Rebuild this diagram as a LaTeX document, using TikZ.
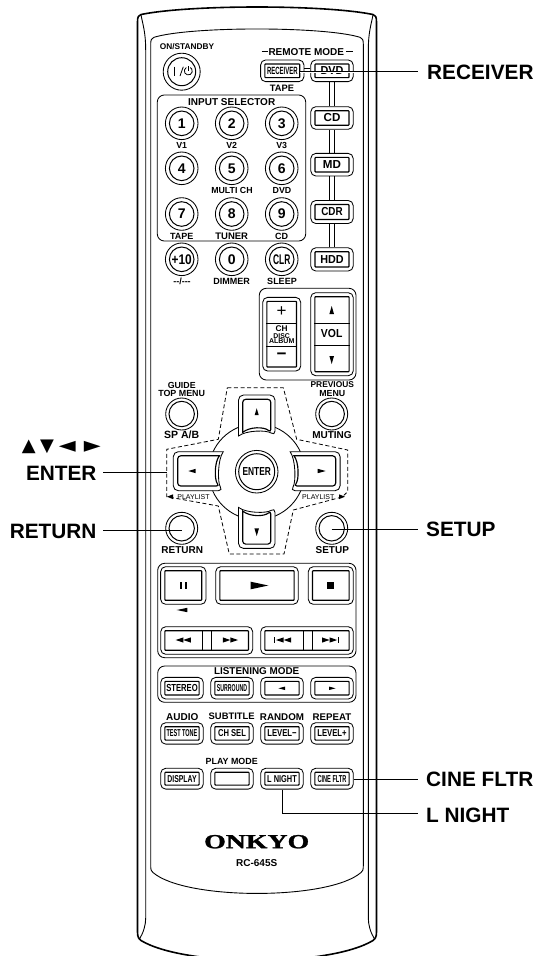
\documentclass[tikz,border=0pt]{standalone}
\usepackage{fontspec}
\usepackage{graphicx}
\setmainfont{Liberation Sans}
\newfontfamily\symfont{DejaVu Sans}
\newfontfamily\logofont[FakeBold=1.2]{Liberation Serif Bold}
\newcommand{\fsz}[1]{\fontsize{#1}{#1}\selectfont}
\newcommand{\cnd}[3]{\fsz{#2}\bfseries\scalebox{#1}[1]{#3}}
\tikzset{
  thinline/.style={line width=0.75pt,black},
  midline/.style={line width=0.85pt,black},
  bodyline/.style={line width=0.9pt,black},
  heavyline/.style={line width=1.6pt,black},
  leader/.style={line width=0.85pt,black},
  ringo/.style={circle,draw,midline,fill=white,inner sep=0pt},
  ringi/.style={circle,draw,line width=1pt,fill=white,inner sep=0pt,font=\bfseries},
  keyo/.style={rectangle,draw,midline,fill=white,rounded corners=5pt,inner sep=0pt},
  keyi/.style={rectangle,draw,line width=1.15pt,fill=white,rounded corners=0.7pt,inner sep=0pt},
  grp/.style={draw,midline,rounded corners=7pt},
  txt/.style={inner sep=0pt,font=\bfseries},
  callout/.style={inner sep=0pt,font=\fsz{20.8}\bfseries},
  dpad/.style={line width=0.85pt,fill=white,rounded corners=5pt},
  dpadi/.style={line width=1.15pt,fill=white,rounded corners=3pt},
  dashbox/.style={line width=0.8pt,dash pattern=on 4pt off 2.6pt}
}
\newcommand{\rbtn}[6]{%
  \node[ringo,minimum size={2*#4*1pt}] (#1) at (#2,#3) {};
  \node[ringi,minimum size={2*#5*1pt}] (#1i) at (#2,#3) {#6};}
\newcommand{\kbtn}[6]{%
  \node[keyo,minimum width={#4*1pt},minimum height={#5*1pt}] (#1) at (#2,#3) {};
  \node[keyi,minimum width={(#4-8.4)*1pt},minimum height={(#5-8)*1pt}] (#1i) at (#2,#3) {#6};}
\newcommand{\lab}[5]{\node[txt] (#1) at (#2,#3) {\fsz{#4}#5};}
\begin{document}
\begin{tikzpicture}[x=1pt,y=-1pt]
\useasboundingbox (0,0) rectangle (537,956);
\fill[white] (0,0) rectangle (537,956);
% ---- body
\begin{scope}
\clip (0,0) rectangle (537,956);
\draw[heavyline,line join=round] (137.5,22) .. controls (137.5,17) and (138.5,15) .. (141,14.5)
  .. controls (190,4.5) and (324,4.5) .. (373,14.5)
  .. controls (375.5,15) and (376.5,17) .. (376.5,22) -- (376.5,932)
  .. controls (376.5,937) and (375,939.5) .. (373,940.5)
  .. controls (329,967) and (185,967) .. (141,940.5)
  .. controls (139,939.5) and (137.5,937) .. (137.5,932) -- cycle;
\draw[bodyline] (141,15) .. controls (143,25) and (145.7,33) .. (145.7,50) -- (145.7,918) .. controls (145.7,925) and (143.5,933) .. (139,939.5);
\draw[bodyline] (373,15) .. controls (371,25) and (368.3,33) .. (368.3,50) -- (368.3,918) .. controls (368.3,925) and (370.5,933) .. (375,939.5);
\draw[bodyline] (150.7,44) .. controls (150.7,40) and (151.5,38) .. (154,37.3)
  .. controls (190,26.2) and (324,26.2) .. (360,37.3)
  .. controls (362.5,38) and (363.3,40) .. (363.3,44) -- (363.3,866)
  .. controls (363.3,870) and (362.5,871.5) .. (361,872.5)
  .. controls (329,900.4) and (185,900.4) .. (153,872.5)
  .. controls (151.5,871.5) and (150.7,870) .. (150.7,866) -- cycle;
\end{scope}
% ---- group frames
\draw[grp] (157.3,95) rectangle (305.7,241);
\draw[grp] (259.3,288.3) rectangle (356,380);
\draw[grp] (157.7,563.3) rectangle (356,657.7);
\draw[grp] (157.7,666) rectangle (356,702.3);
% ---- top
\lab{lonstandby}{187}{46.7}{8.3}{ON/STANDBY}
\rbtn{power}{181.7}{71.7}{18.5}{14}{}
\draw[line width=0.8pt] (174.3,66.7) -- (174.3,76);
\draw[line width=0.8pt] (180,76) -- (183.3,66.7);
\draw[line width=0.8pt] (186.3,67.5) arc[start angle=120,end angle=420,radius=4pt];
\draw[line width=0.8pt] (188.3,66) -- (188.3,71);
\lab{lremote}{306.3}{51.7}{10}{REMOTE MODE}
\coordinate (rmla) at (261.7,51.7); \coordinate (rmlb) at (268,51.7);
\coordinate (rmra) at (346,51.7); \coordinate (rmrb) at (353,51.7);
\draw[thinline] (rmla) -- (rmlb); \draw[thinline] (rmra) -- (rmrb);
\kbtn{kreceiver}{282.3}{70.8}{43.3}{21.7}{\cnd{.57}{10.5}{RECEIVER}}
\kbtn{kdvd}{332}{70.8}{42.4}{21.7}{\cnd{.93}{11.6}{DVD}}
\kbtn{kcd}{332}{118}{42.4}{22.6}{\cnd{1}{11.6}{CD}}
\kbtn{kmd}{332}{164.7}{42.4}{22.6}{\cnd{1}{11.6}{MD}}
\kbtn{kcdr}{332}{212}{42.4}{23}{\cnd{.85}{11.6}{CDR}}
\kbtn{khdd}{332}{259.4}{42.4}{23.2}{\cnd{.93}{11.6}{HDD}}
\draw[thinline] ([yshift=2.5pt]kreceiver.east) -- ([yshift=2.5pt]kdvd.west);
\foreach \a/\b in {kdvd/kcd,kcd/kmd,kmd/kcdr,kcdr/khdd}{
  \draw[thinline] ([xshift=-2.7pt]\a.south) -- ([xshift=-2.7pt]\b.north);
  \draw[thinline] ([xshift=2.7pt]\a.south) -- ([xshift=2.7pt]\b.north);}
\lab{ltape}{282}{88.3}{9.3}{TAPE}
\lab{linput}{231.7}{101.7}{10}{INPUT SELECTOR}
% ---- number pad
\rbtn{n1}{181.7}{123.3}{16.3}{12.3}{\fsz{14}1}
\rbtn{n2}{231.7}{123.3}{16.3}{12.3}{\fsz{14}2}
\rbtn{n3}{281.7}{123.3}{16.3}{12.3}{\fsz{14}3}
\rbtn{n4}{181.7}{168.3}{16.3}{12.3}{\fsz{14}4}
\rbtn{n5}{231.7}{168.3}{16.3}{12.3}{\fsz{14}5}
\rbtn{n6}{281.7}{168.3}{16.3}{12.3}{\fsz{14}6}
\rbtn{n7}{181.7}{214}{16.3}{12.3}{\fsz{14}7}
\rbtn{n8}{231.7}{214}{16.3}{12.3}{\fsz{14}8}
\rbtn{n9}{281.7}{214}{16.3}{12.3}{\fsz{14}9}
\rbtn{n10}{181.7}{259.3}{16.3}{12.3}{\cnd{.85}{14}{+10}}
\rbtn{n0}{231.7}{259.3}{16.3}{12.3}{\fsz{14}0}
\rbtn{nclr}{281.7}{259.3}{16.3}{12.3}{\cnd{.6}{14}{CLR}}
\lab{lv1}{181.7}{145}{8.8}{V1}
\lab{lv2}{231.7}{145}{8.8}{V2}
\lab{lv3}{281.7}{145}{8.8}{V3}
\lab{lmulti}{232}{190}{8.8}{MULTI CH}
\lab{ldvd}{282}{190}{8.8}{DVD}
\lab{ltape2}{181.7}{236}{9}{TAPE}
\lab{ltuner}{231.7}{236}{9.5}{TUNER}
\lab{lcd}{281.7}{236}{9}{CD}
\lab{ldash}{182}{281.7}{9}{-{}-/-{}-{}-}
\lab{ldimmer}{231.7}{281.7}{9}{DIMMER}
\lab{lsleep}{282}{281.7}{9}{SLEEP}
% ---- CH / VOL
\kbtn{kch}{281.7}{334.2}{38}{73.7}{}
\kbtn{kvol}{332}{334.2}{42.6}{83}{}
\draw[line width=1pt] (kchi.west |- 0,323.3) -- (kchi.east |- 0,323.3);
\draw[line width=1pt] (kchi.west |- 0,346) -- (kchi.east |- 0,346);
\draw[line width=1pt] (kvoli.west |- 0,323.3) -- (kvoli.east |- 0,323.3);
\draw[line width=1pt] (kvoli.west |- 0,345.3) -- (kvoli.east |- 0,345.3);
\lab{lplus}{281.7}{311.5}{17}{\mdseries +}
\lab{lch}{281.7}{328.3}{8.3}{CH}
\lab{ldisc}{281.7}{335.8}{6.9}{DISC}
\lab{lalbum}{281.7}{341.5}{7}{ALBUM}
\lab{lminus}{281.7}{356.7}{17}{−}
\lab{lvol}{331.7}{334}{11.6}{\scalebox{.9}[1]{VOL}}
\fill (331.7,306) -- (334,314) -- (329.4,314) -- cycle;
\fill (331.7,364) -- (334,356) -- (329.4,356) -- cycle;
% ---- menu labels
\lab{lguide}{181.7}{385.2}{8.8}{GUIDE}
\lab{ltop}{181.7}{393.6}{8.9}{TOP MENU}
\lab{lprev}{332.3}{385}{8.4}{PREVIOUS}
\lab{lmenu}{332.3}{393.4}{8.8}{MENU}
\rbtn{ktop}{181.7}{414}{16}{12.7}{}
\rbtn{kmute}{331.7}{414}{16}{12.7}{}
\lab{lspab}{181.7}{435}{10.5}{SP A/B}
\lab{lmuting}{332}{435}{10}{MUTING}
% ---- dashed outline
\draw[dashbox] (227.3,387.7) -- (283.3,387.7) -- (296.7,439.3) -- (347.7,450) -- (347.7,491.7)
  -- (342,497) -- (293.3,510) -- (284,554) -- (229.3,554) -- (218.3,506) -- (166.7,496.7)
  -- (166.7,449.3) -- (218.3,439.3) -- cycle;
% ---- D pad
\fill[white] (256.7,471.7) circle[radius=48pt];
\draw[midline] (256.7,471.7) circle[radius=48pt];
\draw[dpad] (238.5,436) -- (238.5,395) -- (275,395) -- (275,436) [sharp corners] .. controls (267,430) and (246.5,430) .. cycle;
\draw[dpadi] (242.7,432.4) -- (242.7,399.3) -- (270.8,399.3) -- (270.8,432.4) [sharp corners] .. controls (264,426.6) and (249.5,426.6) .. cycle;
\draw[dpad] (238.5,507.4) -- (238.5,548.4) -- (275,548.4) -- (275,507.4) [sharp corners] .. controls (267,513.4) and (246.5,513.4) .. cycle;
\draw[dpadi] (242.7,511) -- (242.7,544.1) -- (270.8,544.1) -- (270.8,511) [sharp corners] .. controls (264,516.8) and (249.5,516.8) .. cycle;
\draw[dpad] (223.3,451.7) -- (173.3,451.7) -- (173.3,490.7) -- (223.3,490.7) [sharp corners] .. controls (217.5,483) and (217.5,459.4) .. cycle;
\draw[dpadi] (219.4,455.8) -- (177.7,455.8) -- (177.7,486) -- (219.4,486) [sharp corners] .. controls (214.3,480) and (214.3,462) .. cycle;
\draw[dpad] (290.1,451.7) -- (340.1,451.7) -- (340.1,490.7) -- (290.1,490.7) [sharp corners] .. controls (295.9,483) and (295.9,459.4) .. cycle;
\draw[dpadi] (294,455.8) -- (335.7,455.8) -- (335.7,486) -- (294,486) [sharp corners] .. controls (299.1,480) and (299.1,462) .. cycle;
\fill (256.7,408.3) -- (258.7,415) -- (254.7,415) -- cycle;
\fill (256.7,536) -- (259,528.3) -- (254.4,528.3) -- cycle;
\fill (188.3,471) -- (195.7,468.8) -- (195.7,473.2) -- cycle;
\fill (325.7,471) -- (317.7,468.8) -- (317.7,473.2) -- cycle;
\rbtn{kenter}{256.7}{471.7}{21.3}{18}{\cnd{.72}{11.6}{ENTER}}
\lab{lplayl}{193.5}{496.7}{7}{\mdseries PLAYLIST}
\lab{lplayr}{318.3}{496.7}{7}{\mdseries PLAYLIST}
\fill (167,496.7) -- (173,494.3) -- (173,499.1) -- cycle;
\fill (345,496.7) -- (339,494.3) -- (339,499.1) -- cycle;
% ---- return / setup
\rbtn{kreturn}{181.7}{528.3}{16}{12.7}{}
\rbtn{ksetup}{331.7}{528.3}{16}{12.7}{}
\lab{lreturn}{182.3}{550}{10}{RETURN}
\lab{lsetup}{332.3}{550}{10}{SETUP}
% ---- transport
\kbtn{kpause}{183.3}{585.5}{45.3}{37.6}{}
\kbtn{kplay}{257}{585.5}{82.6}{37.6}{}
\kbtn{kstop}{330.8}{585.5}{45}{37.6}{}
\fill (179.5,581.5) rectangle (182,588.5);
\fill (184.6,581.5) rectangle (187.1,588.5);
\fill (250.7,581.7) -- (268.3,585.5) -- (250.7,589.3) -- cycle;
\fill (327,582) rectangle (334,589);
\fill (176.7,610) -- (187.3,607.8) -- (187.3,612.2) -- cycle;
\kbtn{kskl}{206.7}{640.5}{92}{27.6}{}
\kbtn{kskr}{307}{640.5}{92.6}{27.6}{}
\draw[line width=1pt] (202.7,0 |- kskli.north) -- (202.7,0 |- kskli.south);
\draw[line width=1pt] (211.7,0 |- kskli.north) -- (211.7,0 |- kskli.south);
\draw[line width=1pt] (303.3,0 |- kskri.north) -- (303.3,0 |- kskri.south);
\draw[line width=1pt] (312,0 |- kskri.north) -- (312,0 |- kskri.south);
\newcommand{\tl}[2]{\fill (#1,#2) -- ++(7.6,-2.6) -- ++(0,5.2) -- cycle;}
\newcommand{\tr}[2]{\fill (#1,#2) -- ++(-7.6,-2.6) -- ++(0,5.2) -- cycle;}
\tl{175.7}{640}\tl{183.2}{640}
\tr{230.4}{640}\tr{238}{640}
\fill (274,637.2) rectangle (275.2,642.8);
\tl{276}{640}\tl{283.6}{640}
\tr{329.6}{640}\tr{337.2}{640}
\fill (338.2,637.2) rectangle (339.4,642.8);
% ---- listening mode
\lab{llisten}{256.7}{671.3}{9.9}{LISTENING MODE}
\kbtn{kstereo}{182}{688.2}{42.6}{21.6}{\cnd{.75}{10.2}{STEREO}}
\kbtn{ksurr}{232}{688.2}{42.6}{21.6}{\cnd{.52}{10}{SURROUND}}
\kbtn{klmleft}{282}{688.2}{42.6}{21.6}{}
\kbtn{klmright}{332}{688.2}{42.6}{21.6}{}
\fill (278.3,688.3) -- (285,686.6) -- (285,690) -- cycle;
\fill (335.7,688.3) -- (329,686.6) -- (329,690) -- cycle;
% ---- audio row
\lab{laudio}{182.3}{716.7}{10}{AUDIO}
\lab{lsub}{231.7}{716.7}{9.4}{SUBTITLE}
\lab{lrandom}{282}{716.7}{9.8}{RANDOM}
\lab{lrepeat}{332}{716.7}{9.7}{REPEAT}
\kbtn{ktest}{182}{733.4}{42.6}{21.4}{\cnd{.55}{10}{TEST TONE}}
\kbtn{kchsel}{232}{733.4}{42.6}{21.4}{\cnd{.76}{10}{CH SEL}}
\kbtn{klvm}{282}{733.4}{42.6}{21.4}{\cnd{.77}{10}{LEVEL−}}
\kbtn{klvp}{332}{733.4}{42.6}{21.4}{\cnd{.77}{10}{LEVEL+}}
% ---- play mode row
\lab{lplaymode}{231.7}{761.3}{8.9}{PLAY MODE}
\kbtn{kdisplay}{182}{778.7}{42.6}{20.8}{\cnd{.69}{10}{DISPLAY}}
\kbtn{kblank}{232}{778.7}{42.6}{20.8}{}
\kbtn{klnight}{282}{778.7}{42.6}{20.8}{\cnd{.74}{10}{L NIGHT}}
\kbtn{kcine}{332}{778.7}{42.6}{20.8}{\cnd{.56}{10}{CINE FLTR}}
% ---- logo
\node[inner sep=0pt] (llogo) at (256.7,841.7) {\logofont\fsz{20}\scalebox{1.39}[1]{ONKYO}};
\lab{lmodel}{256.7}{863.3}{10}{RC-645S}
% ---- callouts
\node[callout,anchor=west] (creceiver) at (427,72) {RECEIVER};
\node[callout,anchor=west] (csetup) at (426,529.5) {SETUP};
\node[callout,anchor=west] (ccine) at (426,779.3) {CINE FLTR};
\node[callout,anchor=west] (cnight) at (426,815) {L NIGHT};
\node[callout,anchor=east] (center) at (96.7,473) {ENTER};
\node[callout,anchor=east] (creturn) at (96.7,531.5) {RETURN};
\node[anchor=east,inner sep=0pt] (carrows) at (101,447) {\symfont\fsz{18}▲\kern4.5pt▼\kern5pt\raisebox{-1.2pt}{\fsz{22}◄}\kern8pt\raisebox{-1.2pt}{\fsz{22}►}};
\coordinate (erec) at (418,71.7);
\coordinate (esetup) at (418,529.7);
\coordinate (ecine) at (418,779.3);
\coordinate (enight) at (418,813.5);
\coordinate (eenter) at (103,472.5);
\coordinate (eenterb) at (166.7,472.5);
\coordinate (ereturn) at (103,530);
\draw[white,line width=2.4pt] (kreceiveri.east |- erec) -- (kdvd.east |- erec);
\draw[leader] (kreceiveri.east |- erec) -- (erec);
\draw[leader] (ksetup.center |- esetup) -- (esetup);
\draw[leader] (kcine.east |- ecine) -- (ecine);
\draw[leader] (klnight.south) -- (klnight.south |- enight) -- (enight);
\draw[leader] (eenter) -- (eenterb);
\draw[leader] (ereturn) -- (kreturn.center |- ereturn);
\end{tikzpicture}
\end{document}
